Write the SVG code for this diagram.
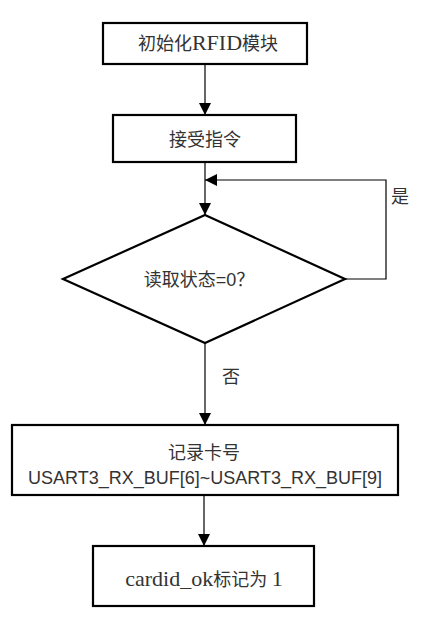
<svg xmlns="http://www.w3.org/2000/svg" width="423" height="620" viewBox="0 0 423 620">
<defs>
<marker id="arr" viewBox="0 0 12 12" refX="12" refY="6" markerWidth="12" markerHeight="12" markerUnits="userSpaceOnUse" orient="auto">
<path d="M0,0 L12,6 L0,12 z" fill="#000"/>
</marker>
<style>
.box{fill:#fff;stroke:#000;stroke-width:2.2}
.ln{fill:none;stroke:#000;stroke-width:1.2}
.serif{font-family:"Liberation Serif","Noto Sans CJK SC",serif;font-size:18px;fill:#333;text-anchor:middle}
.sans{font-family:"Liberation Sans","Noto Sans CJK SC",sans-serif;font-size:18px;fill:#333;text-anchor:middle}
</style>
</defs>
<rect width="423" height="620" fill="#fff"/>
<g id="connectors">
<line class="ln" x1="205" y1="64" x2="205" y2="115" marker-end="url(#arr)"/>
<line class="ln" x1="205" y1="162" x2="205" y2="215" marker-end="url(#arr)"/>
<polyline class="ln" points="345,279 386,279 386,180 205,180" marker-end="url(#arr)"/>
<line class="ln" x1="205" y1="343" x2="205" y2="425" marker-end="url(#arr)"/>
<line class="ln" x1="204" y1="495" x2="204" y2="546" marker-end="url(#arr)"/>
<text class="sans" x="400" y="203">是</text>
<text class="sans" x="231" y="383">否</text>
</g>
<g id="n1">
<rect class="box" x="103" y="23" width="204" height="41"/>
<text class="serif" x="208" y="50" font-size="19">初始化<tspan font-size="22">RFID</tspan>模块</text>
</g>
<g id="n2">
<rect class="box" x="113" y="115" width="183" height="47"/>
<text class="serif" x="205" y="146" font-size="21">接受指令</text>
</g>
<g id="n3">
<polygon class="box" points="205,215 345,279 205,343 63,279"/>
<text class="sans" x="199" y="286" font-size="20">读取状态=0？</text>
</g>
<g id="n4">
<rect class="box" x="12" y="425" width="386" height="70"/>
<text class="sans" x="204" y="459" font-size="21">记录卡号</text>
<text class="sans" x="205" y="484">USART3_RX_BUF[6]~USART3_RX_BUF[9]</text>
</g>
<g id="n5">
<rect class="box" x="93" y="546" width="221" height="60"/>
<text class="serif" x="204" y="586" font-size="17"><tspan font-size="22">cardid_ok</tspan>标记为 <tspan font-size="22">1</tspan></text>
</g>
</svg>
